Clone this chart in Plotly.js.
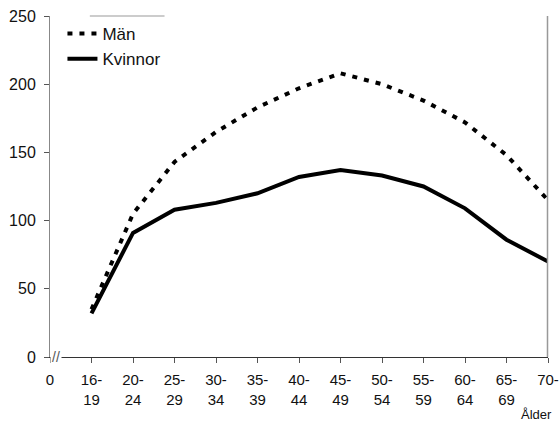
<!DOCTYPE html>
<html><head><meta charset="utf-8">
<script src="https://cdn.plot.ly/plotly-3.0.1.min.js"></script>
<style>body{margin:0;background:#fff}#c{width:560px;height:422px}</style>
</head><body><div id="c"></div>
<script>
const categories = ["16-<br>19","20-<br>24","25-<br>29","30-<br>34","35-<br>39","40-<br>44","45-<br>49","50-<br>54","55-<br>59","60-<br>64","65-<br>69","70-"];
const man = [35,105,143,165,183,197,208,200,188,172,148,115];
const kvinnor = [32,91,108,113,120,132,137,133,125,109,86,70];
const yTicks = [0,50,100,150,200,250];

const xpos = categories.map((_, i) => i + 1);
const tickvals = [0].concat(xpos);
const ticktext = ["0"].concat(categories);

const fam = "Liberation Sans, Arial, sans-serif";
const font = {family: fam, size: 15, color: "#111"};

const data = [
  {x: xpos, y: man, name: "Män", mode: "lines", line: {color: "#000", width: 4, dash: "5px,7px"}},
  {x: xpos, y: kvinnor, name: "Kvinnor", mode: "lines", line: {color: "#000", width: 4}}
];

const layout = {
  width: 560, height: 422,
  margin: {l: 50, r: 12, t: 16, b: 65},
  paper_bgcolor: "#fff", plot_bgcolor: "#fff",
  font: font,
  showlegend: true,
  legend: {x: 0.025, y: 1.0, xanchor: "left", yanchor: "top", bgcolor: "rgba(0,0,0,0)", font: {family: fam, size: 17, color: "#111"}, tracegroupgap: 0},
  xaxis: {
    range: [0, 12], tickmode: "array", tickvals: tickvals, ticktext: ticktext,
    showgrid: false, zeroline: false, showline: true, linecolor: "#333", linewidth: 1,
    mirror: false, ticks: "outside", ticklen: 5, tickcolor: "#555",
    tickfont: font, ticklabelstandoff: 4, fixedrange: true
  },
  yaxis: {
    range: [0, 250], tickmode: "array", tickvals: yTicks,
    showgrid: false, zeroline: false, showline: true, linecolor: "#888", linewidth: 1,
    ticks: "outside", ticklen: 5, tickcolor: "#555",
    tickfont: {family: fam, size: 16, color: "#111"}, ticklabelstandoff: 5, fixedrange: true
  },
  shapes: [
    {type: "line", xref: "paper", yref: "paper", x0: 0.999, x1: 0.999, y0: 0, y1: 1, layer: "above", line: {color: "#999", width: 1.5}},
    {type: "line", xref: "paper", yref: "paper", x0: 0.08, x1: 0.23, y0: 1, y1: 1, line: {color: "#999", width: 1}}
  ],
  annotations: [
    {text: "//", xref: "x", yref: "y", x: 0.15, y: 0, showarrow: false, font: {family: fam, size: 14, color: "#555"}, bgcolor: "#fff"},
    {text: "Ålder", xref: "paper", yref: "paper", x: 1.012, y: 0, yshift: -48, xanchor: "right", yanchor: "top", showarrow: false, font: {family: fam, size: 13, color: "#111"}}
  ]
};

Plotly.newPlot("c", data, layout, {displayModeBar: false, staticPlot: true});
</script></body></html>
